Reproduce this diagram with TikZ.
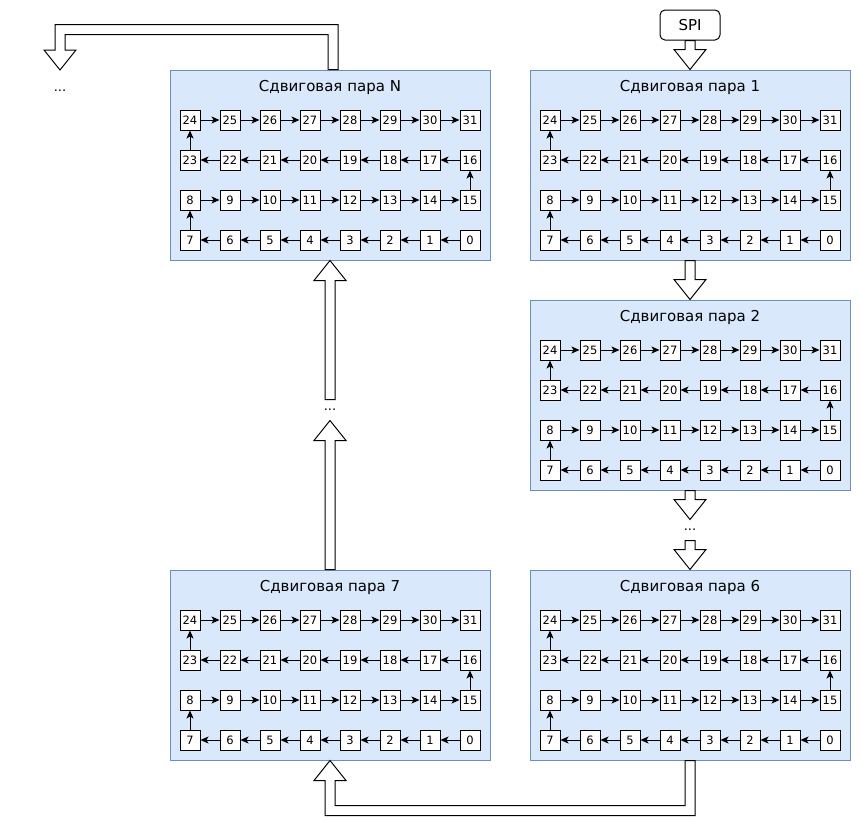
\documentclass[tikz,border=0pt]{standalone}
\usepackage{fontspec}
\setmainfont{DejaVu Sans}
\usetikzlibrary{arrows.meta,calc}
\definecolor{pairFill}{HTML}{DAE8FC}
\definecolor{pairBorder}{HTML}{6C8EBF}

\begin{document}
\begin{tikzpicture}
[x=1pt,y=-1pt,line width=1pt,
  pairBox/.style={draw=pairBorder,fill=pairFill,minimum width=320pt,minimum height=190pt,inner sep=0pt},%
  pairTitle/.style={font=\fontsize{15}{17}\selectfont,inner sep=0pt},
  cellBox/.style={draw,fill=white,minimum size=20pt,inner sep=0pt,font=\fontsize{11.5}{13}\selectfont},
  cellLink/.style={-{Stealth[length=8pt,width=7pt,inset=2pt]}},
  spiBox/.style={draw,rounded corners=5pt,minimum width=60pt,minimum height=30pt,inner sep=0pt,font=\fontsize{15}{17}\selectfont},
  dotsText/.style={minimum height=20pt,inner sep=0pt,font=\fontsize{13}{15}\selectfont},
  fatArrow/.style={draw,fill=white,line join=miter}]
\useasboundingbox (0,0) rectangle (860,820);
%% shift pairs
\foreach \pid/\cx/\cy in {N/330/165, 1/690/165, 2/690/395, 7/330/665, 6/690/665}
{
  \node[pairBox] (pair\pid) at (\cx,\cy) {};
  \node[pairTitle] (title\pid) at (\cx,\cy-78) {Сдвиговая пара \pid};
  \foreach \i in {0,...,7}
    \node[cellBox] (\pid-\i) at ({\cx+140-40*\i},\cy+75) {\i};
  \foreach \i in {8,...,15}
    \node[cellBox] (\pid-\i) at ({\cx-140+40*(\i-8)},\cy+35) {\i};
  \foreach \i in {16,...,23}
    \node[cellBox] (\pid-\i) at ({\cx+140-40*(\i-16)},\cy-5) {\i};
  \foreach \i in {24,...,31}
    \node[cellBox] (\pid-\i) at ({\cx-140+40*(\i-24)},\cy-45) {\i};
  \foreach \i [evaluate=\i as \j using int(\i+1)] in {0,...,30}
    \draw[cellLink] (\pid-\i) -- (\pid-\j);
}
%% input, gaps and exit
\node[spiBox] (spi) at (690,25) {SPI};
\node[dotsText] (dotsR) at (690,530) {...};
\node[dotsText] (dotsL) at (330,410) {...};
\node[dotsText] (dotsOut) at (60,91) {...};
\coordinate (exitTip) at (60,70);
%% straight block arrows
\foreach \a/\b in {spi.south/pair1.north, pair1.south/pair2.north,
  pair2.south/dotsR.north, dotsR.south/pair6.north,
  pair7.north/dotsL.south, dotsL.north/pairN.south}
{
  \draw[fatArrow] let \p1=(\a), \p2=(\b), \n1={20*sign(\y1-\y2)} in
    (\x1-5pt,\y1) -- (\x1-5pt,{\y2+\n1*1pt}) -- (\x1-16pt,{\y2+\n1*1pt})
    -- (\x2,\y2) -- (\x1+16pt,{\y2+\n1*1pt}) -- (\x1+5pt,{\y2+\n1*1pt})
    -- (\x1+5pt,\y1) -- cycle;
}
%% bent block arrows
\draw[fatArrow] let \p1=(pair6.south), \p2=(pair7.south) in
  (\x1-5pt,\y1) -- (\x1-5pt,\y1-45pt) -- (\x2+5pt,\y1-45pt) -- (\x2+5pt,\y2-20pt)
  -- (\x2+16pt,\y2-20pt) -- (\x2,\y2) -- (\x2-16pt,\y2-20pt) -- (\x2-5pt,\y2-20pt)
  -- (\x2-5pt,\y1-55pt) -- (\x1+5pt,\y1-55pt) -- (\x1+5pt,\y1) -- cycle;
\draw[fatArrow] let \p1=($(pairN.north)+(3,0)$), \p2=(exitTip) in
  (\x1-5pt,\y1) -- (\x1-5pt,\y1+35pt) -- (\x2+5pt,\y1+35pt) -- (\x2+5pt,\y2+20pt)
  -- (\x2+16pt,\y2+20pt) -- (\x2,\y2) -- (\x2-16pt,\y2+20pt) -- (\x2-5pt,\y2+20pt)
  -- (\x2-5pt,\y1+45pt) -- (\x1+5pt,\y1+45pt) -- (\x1+5pt,\y1) -- cycle;
\end{tikzpicture}
\end{document}
